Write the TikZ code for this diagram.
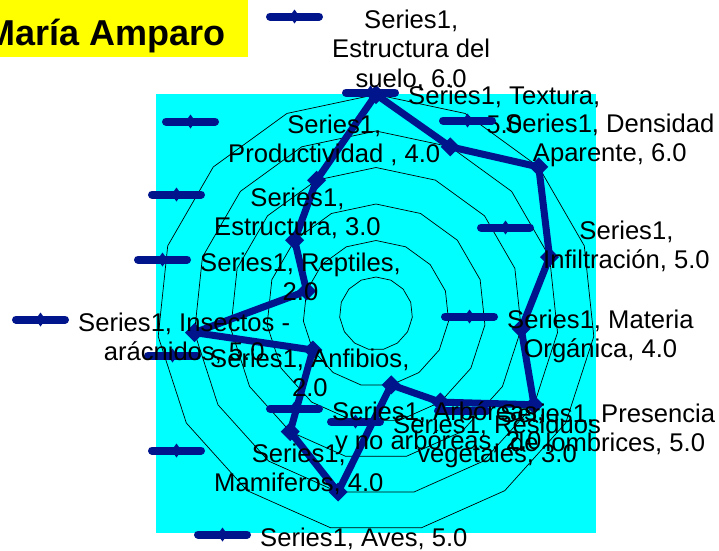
\documentclass[tikz,border=0pt]{standalone}
\usepackage{fontspec}
\setmainfont{Liberation Sans}
\definecolor{serblue}{RGB}{0,20,140}
\definecolor{plotcyan}{RGB}{0,255,255}
\definecolor{titleyellow}{RGB}{255,255,0}
\tikzset{
  gridline/.style={draw=black, line width=0.7pt, line join=miter},
  seriesline/.style={draw=serblue, line width=7pt, line join=round},
  keyline/.style={draw=serblue, line width=8pt, line cap=round},
  lab/.style={anchor=north west, inner sep=0pt, align=center, text=black,
    font=\fontsize{25.6pt}{29.5pt}\selectfont},
}
\newcommand\serlabel[4]{%
  \coordinate (#1k) at (#2,#3-20);
  \draw[keyline] ([shift={(-62,8.5)}]#1k) -- ([shift={(-13,8.5)}]#1k);
  \fill[serblue] ([shift={(-37.5,1.5)}]#1k) -- ++(5,7) -- ++(-5,7) -- ++(-5,-7) -- cycle;
  \node[lab] (#1) at (#1k) {\rule{0pt}{20pt}#4};
}
\begin{document}
\begin{tikzpicture}[x=1pt,y=-1pt]
\clip (0,0) rectangle (719,550);
\fill[white] (0,0) rectangle (719,550);
% title
\fill[titleyellow] (0,0) rectangle (248,57);
\node[anchor=base west, inner sep=0pt, font=\fontsize{36pt}{40pt}\selectfont\bfseries] (title) at (-15,45) {María Amparo};
% plot area
\fill[plotcyan] (156,94) rectangle (596,533);
\begin{scope}[shift={(376,313.5)}]
  \foreach \r in {1,...,6}
    \draw[gridline] (-90:36.5*\r) \foreach \i in {1,...,14}{ -- (24*\i-90:36.5*\r)} -- cycle;
  \foreach \v [count=\i from 0] in {6,5,6,5,4,5,3,2,5,4,2,5,2,3,4}
    \coordinate (p\i) at (24*\i-90:36.5*\v);
\end{scope}
\draw[seriesline] (p0) \foreach \i in {1,...,14}{ -- (p\i)} -- cycle;
\foreach \i in {0,...,14}
  \fill[serblue] (p\i) ++(0,-9.5) -- ++(9.5,9.5) -- ++(-9.5,9.5) -- ++(-9.5,-9.5) -- cycle;
% data labels
\serlabel{sue}{332}{28}{Series1,\\Estructura del\\suelo, 6.0}
\serlabel{tex}{408}{104}{Series1, Textura,\\5.0}
\serlabel{den}{505}{132}{Series1, Densidad\\Aparente, 6.0}
\serlabel{inf}{543}{239}{Series1,\\Infiltración, 5.0}
\serlabel{mat}{507}{328}{Series1, Materia\\Orgánica, 4.0}
\serlabel{pre}{500}{422}{Series1, Presencia\\de lombrices, 5.0}
\serlabel{res}{393}{433}{Series1, Residuos\\vegetales, 3.0}
\serlabel{arb}{332}{420}{Series1, Arbóreas,\\y no arbóreas, 2.0}
\serlabel{ave}{260}{546}{Series1, Aves, 5.0}
\serlabel{mam}{214}{462}{Series1,\\Mamiferos, 4.0}
\serlabel{anf}{210}{367}{Series1, Anfibios,\\2.0}
\serlabel{ins}{78}{331}{Series1, Insectos -\\arácnidos, 5.0}
\serlabel{rep}{200}{271}{Series1, Reptiles,\\2.0}
\serlabel{est}{214}{206}{Series1,\\Estructura, 3.0}
\serlabel{pro}{228}{133}{Series1,\\Productividad , 4.0}
\end{tikzpicture}
\end{document}
